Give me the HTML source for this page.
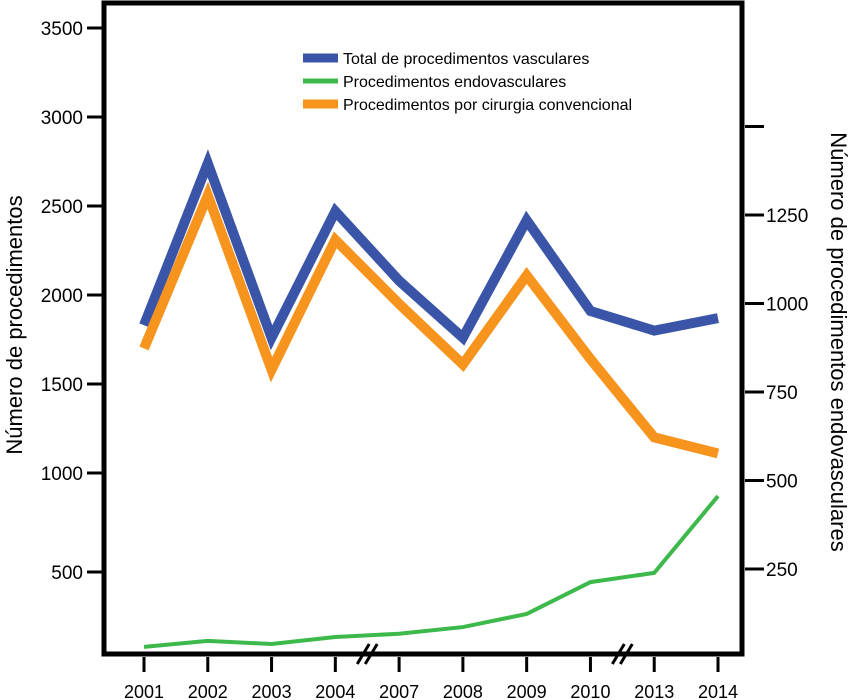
<!DOCTYPE html>
<html><head><meta charset="utf-8"><style>
body{margin:0;background:#fff}
svg{display:block;font-family:"Liberation Sans",sans-serif}
</style></head><body>
<svg id="chart" width="851" height="700">
<rect x="0" y="0" width="851" height="700" fill="#fff"/>
<g id="axes"></g>
<g id="series"></g>
<g id="legend">
  <line x1="303" y1="58" x2="338" y2="58" stroke="#3a55a8" stroke-width="9"/>
  <text x="343" y="64" font-size="16">Total de procedimentos vasculares</text>
  <line x1="303" y1="81" x2="338" y2="81" stroke="#3cb94a" stroke-width="5"/>
  <text x="343" y="87" font-size="16">Procedimentos endovasculares</text>
  <line x1="303" y1="104" x2="338" y2="104" stroke="#f7941d" stroke-width="9"/>
  <text x="343" y="110" font-size="16">Procedimentos por cirurgia convencional</text>
</g>
<text transform="translate(22,325) rotate(-90)" text-anchor="middle" font-size="22">Número de procedimentos</text>
<text transform="translate(831,342) rotate(90)" text-anchor="middle" font-size="22">Número de procedimentos endovasculares</text>
</svg>
<script>
const categories=["2001","2002","2003","2004","2007","2008","2009","2010","2013","2014"];
const totalValues=[1830,2740,1760,2470,2080,1760,2420,1910,1800,1870];
const conventionalValues=[1700,2560,1580,2310,1950,1610,2110,1640,1200,1110];
const endoValues=[30,47,38,58,67,86,123,213,239,456];
const leftTicks=[500,1000,1500,2000,2500,3000,3500];
const rightTicks=[250,500,750,1000,1250,1500];
const rightTickLabels=["250","500","750","1000","1250",""];

const NS="http://www.w3.org/2000/svg";
function mk(tag,attrs,parent){const e=document.createElementNS(NS,tag);for(const k in attrs)e.setAttribute(k,attrs[k]);parent.appendChild(e);return e;}
const X0=144,X1=718;
function xPos(i){return X0+(X1-X0)*i/(categories.length-1);}
function yLeft(v){ if(v>=1000) return 473-(v-1000)*0.178; return 572-(v-500)*(99/500); }
function yRight(v){return 657.5-v*0.354;}
const axes=document.getElementById('axes');
const series=document.getElementById('series');
let f=mk('rect',{x:104,y:3,width:638,height:651,fill:'none',stroke:'#000','stroke-width':5},axes);


leftTicks.forEach(v=>{const y=yLeft(v);
 let t=mk('line',{x1:87,y1:y,x2:102,y2:y,stroke:'#000','stroke-width':3},axes);
 
 
 let l=mk('text',{x:83,y:y+7,'text-anchor':'end','font-size':19},axes);l.textContent=v;
 
 
});
rightTicks.forEach((v,i)=>{const y=yRight(v);
 let t=mk('line',{x1:745,y1:y,x2:764,y2:y,stroke:'#000','stroke-width':3},axes);
 
 
 let l=mk('text',{x:766,y:y+7,'font-size':19},axes);l.textContent=rightTickLabels[i];
 
 
});
categories.forEach((c,i)=>{const x=xPos(i);
 let t=mk('line',{x1:x,y1:657,x2:x,y2:672,stroke:'#000','stroke-width':3},axes);
 
 
 let l=mk('text',{x:x,y:698,'text-anchor':'middle','font-size':18},axes);l.textContent=c;
 
 
});
[3.5,7.5].forEach((b,k)=>{const x=X0+(X1-X0)*b/(categories.length-1);
 [-4,4].forEach(d=>{let s=mk('line',{x1:x+d-6,y1:664,x2:x+d+6,y2:644,stroke:'#000','stroke-width':3},axes);
 
 });
});
function poly(vals,yf,color,w,name){
 const pts=vals.map((v,i)=>xPos(i)+','+yf(v)).join(' ');
 let p=mk('polyline',{points:pts,fill:'none',stroke:color,'stroke-width':w,'stroke-linejoin':'miter','stroke-miterlimit':10},series);
 
 
}
poly(totalValues,yLeft,'#3a55a8',10,'series-total-line');
poly(conventionalValues,yLeft,'#f7941d',10,'series-conventional-line');
poly(endoValues,yRight,'#3cb94a',4,'series-endovascular-line');
</script>
</body></html>
